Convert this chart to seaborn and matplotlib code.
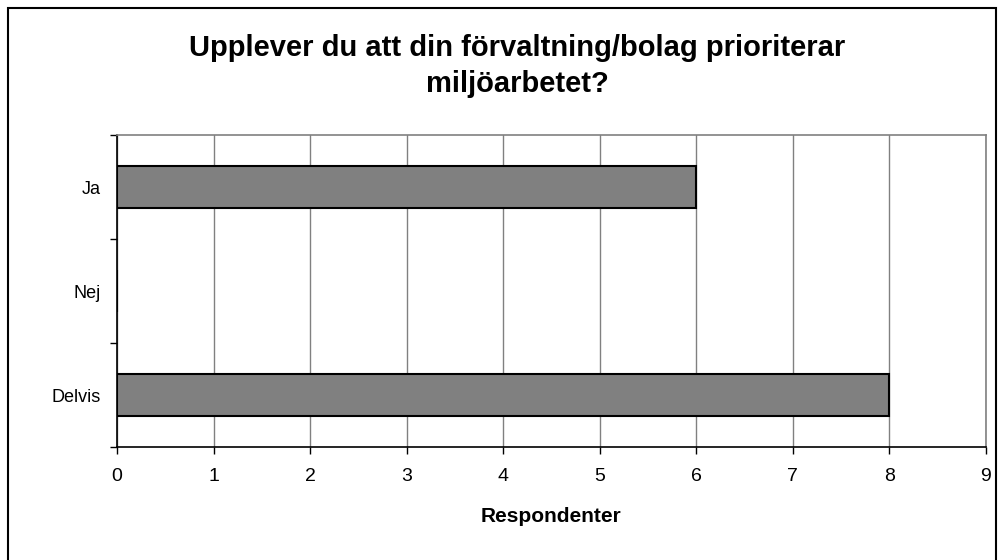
import seaborn as sns
import matplotlib.pyplot as plt
import pandas as pd
from matplotlib.patches import Rectangle

# svarsalternativ och antal respondenter
categories = ["Ja", "Nej", "Delvis"]
values = [6, 0, 8]
x_ticks = [0, 1, 2, 3, 4, 5, 6, 7, 8, 9]

df = pd.DataFrame({"svar": categories, "antal": values})

sns.set_style("white")
plt.rcParams["font.family"] = ["Liberation Sans", "DejaVu Sans"]
plt.rcParams["text.color"] = "black"
plt.rcParams["xtick.color"] = "black"
plt.rcParams["ytick.color"] = "black"
plt.rcParams["axes.labelcolor"] = "black"

W, H = 1003, 560
fig = plt.figure(figsize=(W / 100, H / 100), dpi=100)
ax = fig.add_axes([117 / W, 1 - 447 / H, (986 - 117) / W, (447 - 135) / H])

sns.barplot(data=df, x="antal", y="svar", orient="h", color="#808080",
            saturation=1, width=0.4, edgecolor="black", linewidth=1.5, ax=ax)

ax.set_xlim(0, 9)
ax.set_ylim(2.5, -0.5)
ax.set_xticks(x_ticks)
ax.set_xticklabels([str(t) for t in x_ticks], fontsize=14)
ax.grid(axis="x", color="#808080", linewidth=1)
ax.set_axisbelow(True)

# kategorietiketter mellan tickmarkeringarna
ax.set_yticks([-0.5, 0.5, 1.5, 2.5])
ax.set_yticklabels([])
ax.set_yticks([0, 1, 2], minor=True)
ax.set_yticklabels(categories, minor=True, fontsize=13)
ax.tick_params(axis="y", which="minor", length=0, pad=12)
ax.tick_params(axis="y", which="major", length=5, width=1, color="black", direction="out", left=True)
ax.tick_params(axis="x", length=5, width=1, color="black", direction="out", bottom=True, pad=10)

for s in ["left", "bottom"]:
    ax.spines[s].set_color("black")
    ax.spines[s].set_linewidth(1.2)
for s in ["top", "right"]:
    ax.spines[s].set_color("#808080")
    ax.spines[s].set_linewidth(1.2)

ax.set_ylabel("")
ax.set_xlabel("Respondenter", fontsize=15, fontweight="bold", labelpad=16)

fig.text(517 / W, 1 - 66 / H, "Upplever du att din förvaltning/bolag prioriterar\nmiljöarbetet?",
         ha="center", va="center", fontsize=21, fontweight="bold", linespacing=1.35)

# ram runt diagramytan
fig.add_artist(Rectangle((8 / W, -0.05), (996 - 8) / W, 1.05 - 8 / H,
                         transform=fig.transFigure, fill=False, edgecolor="black", linewidth=1.5))

fig.savefig("out.png", dpi=100)
